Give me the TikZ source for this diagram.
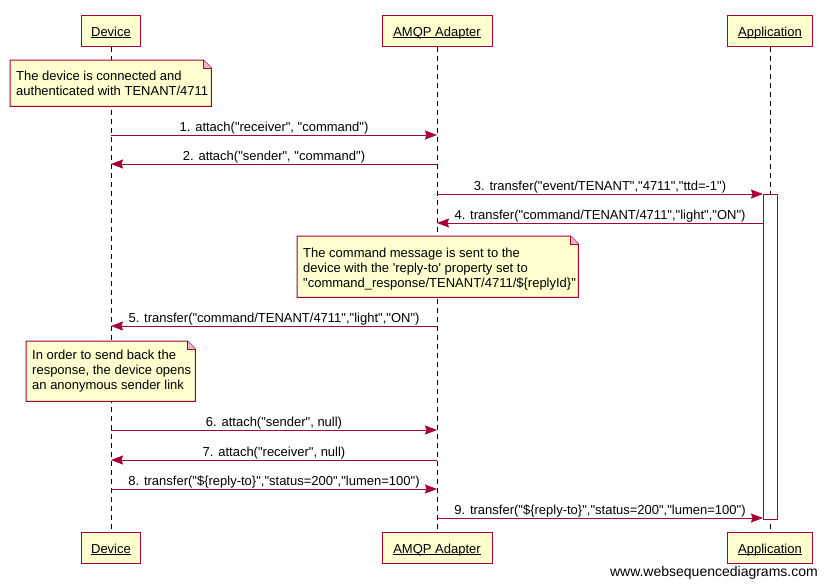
\documentclass[tikz,border=0pt]{standalone}
\usepackage{fontspec}
\setmainfont{Liberation Sans}
\usetikzlibrary{arrows.meta}
\definecolor{wsdred}{HTML}{A80036}
\definecolor{wsdfill}{HTML}{FEFECE}
\definecolor{wsdfold}{HTML}{EBB6C4}
\newcommand\qq{\textquotedbl}
\newcommand\ulabel[1]{\setbox0=\hbox{#1}\rlap{\rule[-1.9pt]{\wd0}{0.9pt}}\box0}
\begin{document}
\begin{tikzpicture}[x=1pt,y=-1pt,
  every node/.style={font=\fontsize{13}{15}\selectfont},
  actor/.style={draw=wsdred, fill=wsdfill, line width=1pt, minimum height=31pt, inner sep=0pt, text height=11pt, text depth=0pt},
  life/.style={dash pattern=on 5pt off 4pt, line width=1pt, black},
  msg/.style={draw=wsdred, line width=1pt, -{Stealth[length=12pt,width=9pt,inset=1.5pt]}},
  lbl/.style={anchor=base, yshift=3.5pt, inner sep=0pt, text=black},
  paper/.style={draw=none, inner sep=0pt, anchor=north west},
  notetext/.style={inner sep=0pt, align=left, anchor=west, xshift=6pt},
  notepaper/.style={draw=wsdred, fill=wsdfill, line width=1pt},
  notefold/.style={draw=wsdred, fill=wsdfold, line width=1pt},
  actbar/.style={draw=wsdred, fill=white, line width=1pt, minimum width=14pt, inner sep=0pt},
]
\useasboundingbox (0,0) rectangle (827,587);
\fill[white] (0,0) rectangle (827,587);

% participants
\node[actor, minimum width=59pt] (devT) at (111,30.5) {\ulabel{Device}};
\node[actor, minimum width=110pt] (amqT) at (437,30.5) {\ulabel{AMQP Adapter}};
\node[actor, minimum width=85pt] (appT) at (770,30.5) {\ulabel{Application}};
\node[actor, minimum width=59pt] (devB) at (111,547.5) {\ulabel{Device}};
\node[actor, minimum width=110pt] (amqB) at (437,547.5) {\ulabel{AMQP Adapter}};
\node[actor, minimum width=85pt] (appB) at (770,547.5) {\ulabel{Application}};

% lifelines
\draw[life] (devT.south) -- (devB.north);
\draw[life] (amqT.south) -- (amqB.north);
\draw[life] (appT.south) -- (appB.north);

% activation
\node[actbar, minimum height=325pt] (act) at (770,356.5) {};

% notes
\node[paper, minimum width=201pt, minimum height=46pt] (n1) at (10,60) {};
\node[paper, minimum width=281pt, minimum height=61pt] (n2) at (297,236) {};
\node[paper, minimum width=169pt, minimum height=60pt] (n3) at (26,341) {};
\foreach \n in {n1,n2,n3}{
  \path[notepaper] (\n.north west) -- ([xshift=-8pt]\n.north east) -- ([yshift=-8pt]\n.north east) -- (\n.south east) -- (\n.south west) -- cycle;
  \path[notefold] ([xshift=-8pt]\n.north east) -- ([xshift=-8pt,yshift=-8pt]\n.north east) -- ([yshift=-8pt]\n.north east);
}
\node[notetext] (t1) at (n1.west) {The device is connected and\\authenticated with TENANT/4711};
\node[notetext, yshift=-2pt] (t2) at (n2.west) {The command message is sent to the\\device with the \textquotesingle reply-to\textquotesingle\ property set to\\\qq command\_response/TENANT/4711/\$\{replyId\}\qq};
\node[notetext] (t3) at (n3.west) {In order to send back the\\response, the device opens\\an anonymous sender link};

% message end points
\coordinate (d1) at (111,135); \coordinate (a1) at (437,135);
\coordinate (d2) at (111,164); \coordinate (a2) at (437,164);
\coordinate (a3) at (437,194); \coordinate (p3) at (763,194);
\coordinate (a4) at (437,223); \coordinate (p4) at (763,223);
\coordinate (d5) at (111,326); \coordinate (a5) at (437,326);
\coordinate (d6) at (111,430); \coordinate (a6) at (437,430);
\coordinate (d7) at (111,460); \coordinate (a7) at (437,460);
\coordinate (d8) at (111,489); \coordinate (a8) at (437,489);
\coordinate (a9) at (437,518); \coordinate (p9) at (763,518);

\draw[msg] (d1) -- (a1) node[lbl, midway] (m1) {1. attach(\qq receiver\qq, \qq command\qq)};
\draw[msg] (a2) -- (d2) node[lbl, midway] (m2) {2. attach(\qq sender\qq, \qq command\qq)};
\draw[msg] (a3) -- (p3) node[lbl, midway] (m3) {3. transfer(\qq event/TENANT\qq,\qq 4711\qq,\qq ttd=-1\qq)};
\draw[msg] (p4) -- (a4) node[lbl, midway] (m4) {4. transfer(\qq command/TENANT/4711\qq,\qq light\qq,\qq ON\qq)};
\draw[msg] (a5) -- (d5) node[lbl, midway] (m5) {5. transfer(\qq command/TENANT/4711\qq,\qq light\qq,\qq ON\qq)};
\draw[msg] (d6) -- (a6) node[lbl, midway] (m6) {6. attach(\qq sender\qq, null)};
\draw[msg] (a7) -- (d7) node[lbl, midway] (m7) {7. attach(\qq receiver\qq, null)};
\draw[msg] (d8) -- (a8) node[lbl, midway] (m8) {8. transfer(\qq\$\{reply-to\}\qq,\qq status=200\qq,\qq lumen=100\qq)};
\draw[msg] (a9) -- (p9) node[lbl, midway] (m9) {9. transfer(\qq\$\{reply-to\}\qq,\qq status=200\qq,\qq lumen=100\qq)};

% watermark
\node[anchor=base east, inner sep=0pt, font=\fontsize{14}{16}\selectfont] (wm) at (818,576) {www.websequencediagrams.com};
\end{tikzpicture}
\end{document}
